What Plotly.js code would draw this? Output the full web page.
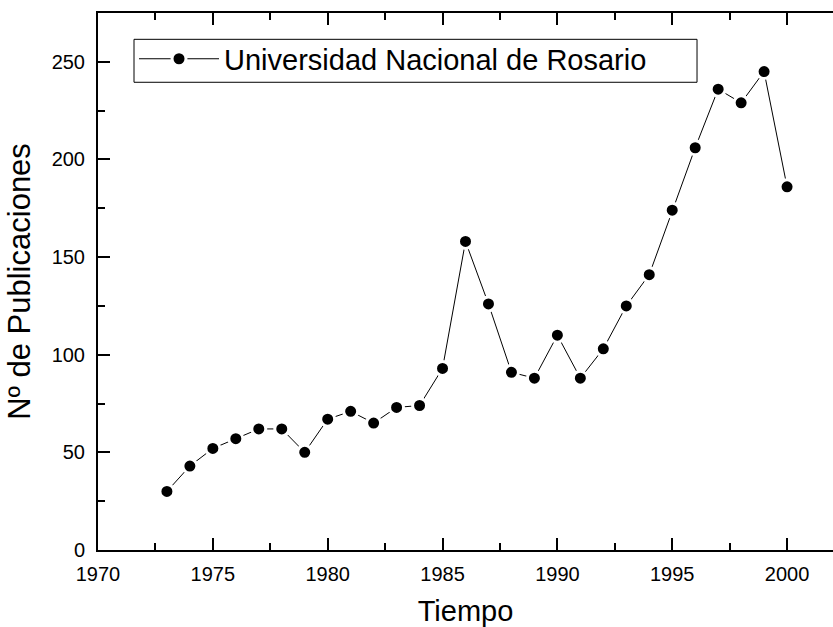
<!DOCTYPE html>
<html>
<head>
<meta charset="utf-8">
<script src="https://cdn.plot.ly/plotly-3.0.1.min.js"></script>
<style>html,body{margin:0;padding:0;background:#fff;}#chart{width:833px;height:627px;}</style>
</head>
<body>
<div id="chart"></div>
<script>
var years = [1973,1974,1975,1976,1977,1978,1979,1980,1981,1982,1983,1984,1985,1986,1987,1988,1989,1990,1991,1992,1993,1994,1995,1996,1997,1998,1999,2000];
var publicaciones = [30,43,52,57,62,62,50,67,71,65,73,74,93,158,126,91,88,110,88,103,125,141,174,206,236,229,245,186];
var seriesName = "Universidad Nacional de Rosario";
var xTicks = [1970,1975,1980,1985,1990,1995,2000];
var yTicks = [0,50,100,150,200,250];

var font = "Arial, 'Liberation Sans', sans-serif";

var trace = {
  x: years, y: publicaciones, name: seriesName,
  type: "scatter", mode: "lines+markers",
  line: {color: "#000", width: 1},
  marker: {color: "#000", size: 14, line: {color: "#fff", width: 3}},
  showlegend: true
};

var layout = {
  width: 833, height: 627,
  margin: {l: 98, r: 0, t: 13, b: 77, pad: 0},
  paper_bgcolor: "#fff", plot_bgcolor: "#fff",
  font: {family: font, color: "#000"},
  showlegend: true,
  legend: {
    x: 0.049, y: 0.962, xanchor: "left", yanchor: "top",
    borderwidth: 0, bgcolor: "rgba(0,0,0,0)",
    font: {size: 29, family: font, color: "#000"},
    itemwidth: 80
  },
  shapes: [{
    type: "rect", xref: "paper", yref: "paper",
    x0: 0.049, x1: 0.815, y0: 0.871, y1: 0.951,
    line: {color: "#000", width: 1}, fillcolor: "rgba(0,0,0,0)", layer: "above"
  }],
  xaxis: {
    range: [1970, 2002], tickvals: xTicks, ticktext: xTicks.map(String),
    ticks: "inside", ticklen: 12, tickwidth: 2, tickcolor: "#000",
    minor: {dtick: 2.5, tick0: 1970, ticks: "inside", ticklen: 7, tickwidth: 2, tickcolor: "#000"},
    showline: true, linecolor: "#000", linewidth: 2, mirror: "ticks",
    showgrid: false, zeroline: false, ticklabelstandoff: 5,
    tickfont: {size: 20, family: font, color: "#000"},
    title: {text: "Tiempo", font: {size: 29, family: font, color: "#000"}, standoff: 20}
  },
  yaxis: {
    range: [0, 275], tickvals: yTicks, ticktext: yTicks.map(String),
    ticks: "inside", ticklen: 12, tickwidth: 2, tickcolor: "#000",
    minor: {dtick: 25, tick0: 0, ticks: "inside", ticklen: 7, tickwidth: 2, tickcolor: "#000"},
    showline: true, linecolor: "#000", linewidth: 2, mirror: false,
    showgrid: false, zeroline: false, ticklabelstandoff: 7,
    tickfont: {size: 20, family: font, color: "#000"},
    title: {text: "Nº de Publicaciones", font: {size: 31, family: font, color: "#000"}, standoff: 12}
  }
};

Plotly.newPlot("chart", [trace], layout, {displayModeBar: false, staticPlot: true});
</script>
</body>
</html>
